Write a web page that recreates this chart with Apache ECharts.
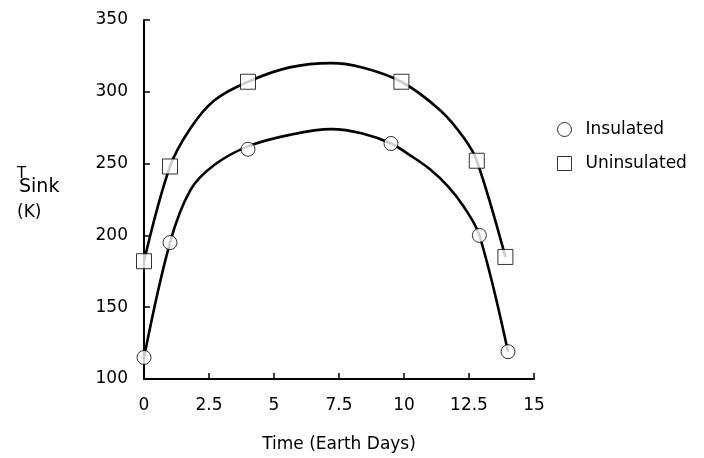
<!DOCTYPE html>
<html>
<head>
<meta charset="utf-8">
<script src="https://cdn.jsdelivr.net/npm/echarts@6/dist/echarts.min.js"></script>
<style>html,body{margin:0;padding:0;background:#fff;}#c{width:704px;height:458px;}</style>
</head>
<body>
<div id="c"></div>
<script>
// measured points
const insulatedX = [0, 1, 4, 9.5, 12.9, 14];
const insulatedY = [115, 195, 260, 264, 200, 119];
const uninsulatedX = [0, 1, 4, 9.9, 12.8, 13.9];
const uninsulatedY = [182, 248, 307, 307, 252, 185];
// fitted curves
const insCurveX = [0, 1, 1.8, 2.7, 4, 5.6, 7.2, 8.4, 9.5, 10.3, 11.0, 11.7, 12.3, 12.9, 14];
const insCurveY = [115, 195, 232, 249, 262, 270, 274, 271, 264, 255, 246, 234, 220, 200, 119];
const uninsCurveX = [0, 1, 1.8, 2.7, 4, 5.6, 7.2, 8.4, 9.9, 11.4, 12.3, 12.8, 13.9];
const uninsCurveY = [182, 248, 275, 294, 307, 317, 320, 317, 307, 287, 268, 252, 185];
const xTicks = {min: 0, max: 15, interval: 2.5};
const yTicks = {min: 100, max: 350, interval: 50};
const names = ['Insulated', 'Uninsulated'];

const pair = (xs, ys) => xs.map((x, i) => [x, ys[i]]);
const font = 'DejaVu Sans';
const chart = echarts.init(document.getElementById('c'), null, {renderer: 'canvas'});
const curveStyle = {color: '#000', width: 2.6};
chart.setOption({
  animation: false,
  backgroundColor: '#fff',
  grid: {left: 144, right: 170, top: 20, bottom: 79},
  legend: {
    data: [{name: names[0], icon: 'circle'}, {name: names[1], icon: 'rect'}],
    orient: 'vertical', left: 557, top: 121, padding: 0,
    itemWidth: 14, itemHeight: 14, itemGap: 17,
    itemStyle: {color: '#fff', borderColor: '#000', borderWidth: 1},
    textStyle: {fontFamily: font, fontSize: 17, color: '#000', padding: [0, 0, 0, 9]}
  },
  xAxis: {
    type: 'value', min: xTicks.min, max: xTicks.max, interval: xTicks.interval,
    name: 'Time (Earth Days)', nameLocation: 'middle', nameGap: 57,
    nameTextStyle: {fontFamily: font, fontSize: 17, color: '#000'},
    axisLine: {lineStyle: {color: '#000', width: 2}},
    axisTick: {inside: true, length: 6, lineStyle: {color: '#000', width: 1.5}},
    axisLabel: {fontFamily: font, fontSize: 17, color: '#000', margin: 18},
    splitLine: {show: false}
  },
  yAxis: {
    type: 'value', min: yTicks.min, max: yTicks.max, interval: yTicks.interval,
    name: '{t|T}\n{s|Sink}\n{k|(K)}', nameLocation: 'middle', nameRotate: 0, nameGap: 127,
    nameTextStyle: {
      fontFamily: font, color: '#000', align: 'left', verticalAlign: 'middle',
      rich: {
        t: {fontFamily: font, fontSize: 15, color: '#000', lineHeight: 10},
        s: {fontFamily: font, fontSize: 19, color: '#000', lineHeight: 16, padding: [0, 0, 0, 2]},
        k: {fontFamily: font, fontSize: 17, color: '#000', lineHeight: 34}
      }
    },
    axisLine: {lineStyle: {color: '#000', width: 2}},
    axisTick: {inside: true, length: 6, lineStyle: {color: '#000', width: 1.5}},
    axisLabel: {fontFamily: font, fontSize: 17, color: '#000', margin: 16},
    splitLine: {show: false}
  },
  series: [
    {name: 'insFit', type: 'line', data: pair(insCurveX, insCurveY), smooth: 0.35,
     showSymbol: false, lineStyle: curveStyle, z: 2, silent: true},
    {name: 'uninsFit', type: 'line', data: pair(uninsCurveX, uninsCurveY), smooth: 0.35,
     showSymbol: false, lineStyle: curveStyle, z: 2, silent: true},
    {name: names[0], type: 'scatter', data: pair(insulatedX, insulatedY), symbol: 'circle', symbolSize: 14,
     itemStyle: {color: '#fff', borderColor: '#000', borderWidth: 1}, z: 5},
    {name: names[1], type: 'scatter', data: pair(uninsulatedX, uninsulatedY), symbol: 'rect', symbolSize: 15,
     itemStyle: {color: '#fff', borderColor: '#000', borderWidth: 1}, z: 5}
  ]
});
</script>
</body>
</html>
